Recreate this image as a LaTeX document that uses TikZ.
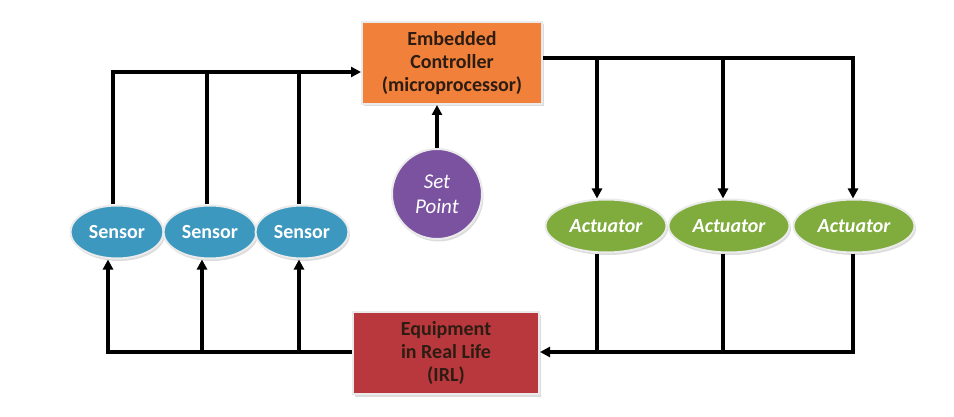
\documentclass[tikz,border=0pt]{standalone}
\usepackage{fontspec}
\setmainfont{Carlito}
\usetikzlibrary{shapes.geometric,arrows.meta,shadows}
\definecolor{ctrlorange}{RGB}{240,128,58}
\definecolor{sppurple}{RGB}{122,82,160}
\definecolor{sensblue}{RGB}{60,152,190}
\definecolor{actgreen}{RGB}{128,172,62}
\definecolor{eqred}{RGB}{184,56,62}
\definecolor{boxtext}{RGB}{45,28,18}
\begin{document}
\begin{tikzpicture}[x=1pt,y=-1pt,
  conn/.style={line width=3.2pt, black},
  arr/.style={conn, -{Triangle[length=10pt,width=10pt]}},
  shade/.style={drop shadow={opacity=0.28, shadow xshift=1.5pt, shadow yshift=-2.5pt}},
  ctrlbox/.style={rectangle, fill=ctrlorange, draw=white!92!black, line width=2pt, minimum width=180pt, minimum height=82pt, align=center, text=boxtext, font=\bfseries\fontsize{20}{23}\selectfont, shade},
  eqbox/.style={rectangle, fill=eqred, draw=white!92!black, line width=2pt, minimum width=186pt, minimum height=82pt, align=center, text=boxtext, font=\bfseries\fontsize{20}{23}\selectfont, shade},
  spnode/.style={circle, fill=sppurple, draw=white!92!black, line width=2pt, minimum size=90pt, inner sep=0pt, align=center, text=white, font=\itshape\fontsize{21}{25}\selectfont, shade},
  sensnode/.style={ellipse, fill=sensblue, draw=white!92!black, line width=2pt, minimum width=93pt, minimum height=53pt, inner sep=0pt, text=white, font=\bfseries\fontsize{20}{22}\selectfont, shade},
  actnode/.style={ellipse, fill=actgreen, draw=white!92!black, line width=2pt, minimum width=121pt, minimum height=53pt, inner sep=0pt, text=white, font=\bfseries\itshape\fontsize{20}{22}\selectfont, shade}
]
\useasboundingbox (0,0) rectangle (954,417);

% nodes
\node[ctrlbox] (ctrl) at (452,63) {Embedded\\Controller\\(microprocessor)};
\node[spnode] (sp) at (437,194) {Set\\Point};
\node[sensnode] (s1) at (117,232) {Sensor};
\node[sensnode] (s2) at (210,232) {Sensor};
\node[sensnode] (s3) at (302,232) {Sensor};
\node[actnode] (a1) at (606,226) {Actuator};
\node[actnode] (a2) at (729,226) {Actuator};
\node[actnode] (a3) at (854,226) {Actuator};
\node[eqbox] (eq) at (446,353) {Equipment\\in Real Life\\(IRL)};

% coordinates
\coordinate (t1) at (113,72);
\coordinate (t2) at (207,72);
\coordinate (t3) at (299,72);
\coordinate (r0) at (545,58);
\coordinate (r1) at (597,58);
\coordinate (r2) at (723,58);
\coordinate (r3) at (853,58);
\coordinate (b1) at (597,352);
\coordinate (b2) at (723,352);
\coordinate (b3) at (853,352);
\coordinate (c1) at (108,352);
\coordinate (c2) at (202,352);
\coordinate (c3) at (299,352);

% sensors -> controller
\draw[arr] (t1 |- s1.north) -- (t1) -- (t1 -| ctrl.west);
\draw[conn] (t2 |- s2.north) -- (t2);
\draw[conn] (t3 |- s3.north) -- (t3);

% set point -> controller
\draw[arr] (sp.north) -- (ctrl.south -| sp.north);

% controller -> actuators
\draw[arr] (ctrl.east |- r0) -- (r3) -- (r3 |- a3.north);
\draw[arr] (r1) -- (r1 |- a1.north);
\draw[arr] (r2) -- (r2 |- a2.north);

% actuators -> equipment
\draw[arr] (b3 |- a3.south) -- (b3) -- (eq.east |- b3);
\draw[conn] (b1 |- a1.south) -- (b1);
\draw[conn] (b2 |- a2.south) -- (b2);

% equipment -> sensors
\draw[arr] (eq.west |- c1) -- (c1) -- (c1 |- s1.south);
\draw[arr] (c2) -- (c2 |- s2.south);
\draw[arr] (c3) -- (c3 |- s3.south);
\end{tikzpicture}
\end{document}
